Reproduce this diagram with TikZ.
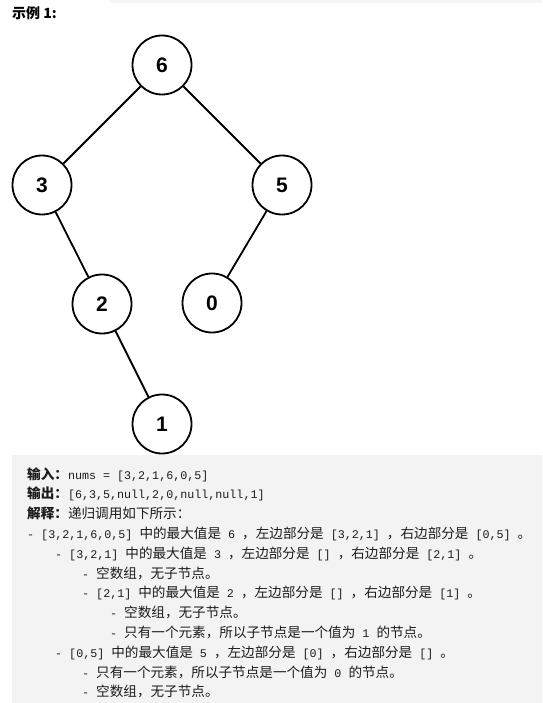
\documentclass[tikz,border=0pt]{standalone}
\usepackage{fontspec}
\setmainfont{Noto Sans CJK SC}
\setmonofont{Liberation Mono}
\newfontfamily\numfont{Liberation Sans}
\usepackage{tikz}
\definecolor{boxgray}{HTML}{F3F3F3}
\definecolor{bandgray}{HTML}{F5F5F5}
\definecolor{txt}{HTML}{1C1C1C}
\newcommand{\cd}[1]{{\ttfamily\fontsize{11.7}{13}\selectfont #1}}
\tikzset{
treenode/.style={draw, circle, line width=1.8pt, minimum size=59pt, inner sep=0pt,
  font=\numfont\bfseries\fontsize{21}{21}\selectfont},
treeedge/.style={line width=1.8pt},
txtline/.style={anchor=base west, inner sep=0pt, text=txt, font=\fontsize{13.6}{14}\selectfont}
}

\begin{document}
\begin{tikzpicture}[x=1pt,y=-1pt]
\useasboundingbox (0,0) rectangle (542,703);
\fill[bandgray] (110,0) rectangle (542,3);
\fill[boxgray] (12,455) rectangle (542,703);
\node[anchor=west, inner sep=0pt, font=\bfseries\fontsize{14}{14}\selectfont] (title) at (12,13) {示例 1:};

\node[treenode] (n6) at (162,65) {6};
\node[treenode] (n3) at (42,185) {3};
\node[treenode] (n5) at (282,185) {5};
\node[treenode] (n2) at (102,304) {2};
\node[treenode] (n0) at (212,303) {0};
\node[treenode] (n1) at (162,424) {1};
\draw[treeedge]
(n6) -- (n3)
(n6) -- (n5)
(n3) -- (n2)
(n2) -- (n1)
(n5) -- (n0);

\node[txtline] (l1) at (27,479) {\textbf{输入：}\cd{nums = [3,2,1,6,0,5]}};
\node[txtline] (l2) at (27,498.8) {\textbf{输出：}\cd{[6,3,5,null,2,0,null,null,1]}};
\node[txtline] (l3) at (27,518.6) {\textbf{解释：}递归调用如下所示：};
\node[txtline] (l4) at (27,538.4) {\cd{- [3,2,1,6,0,5] }中的最大值是\cd{ 6 }，左边部分是\cd{ [3,2,1] }，右边部分是\cd{ [0,5] }。};
\node[txtline] (l5) at (55,558.2) {\cd{- [3,2,1] }中的最大值是\cd{ 3 }，左边部分是\cd{ [] }，右边部分是\cd{ [2,1] }。};
\node[txtline] (l6) at (82,578) {\cd{- }空数组，无子节点。};
\node[txtline] (l7) at (82,597.8) {\cd{- [2,1] }中的最大值是\cd{ 2 }，左边部分是\cd{ [] }，右边部分是\cd{ [1] }。};
\node[txtline] (l8) at (110,617.6) {\cd{- }空数组，无子节点。};
\node[txtline] (l9) at (110,637.4) {\cd{- }只有一个元素，所以子节点是一个值为\cd{ 1 }的节点。};
\node[txtline] (l10) at (55,657.2) {\cd{- [0,5] }中的最大值是\cd{ 5 }，左边部分是\cd{ [0] }，右边部分是\cd{ [] }。};
\node[txtline] (l11) at (82,677) {\cd{- }只有一个元素，所以子节点是一个值为\cd{ 0 }的节点。};
\node[txtline] (l12) at (82,696.8) {\cd{- }空数组，无子节点。};
\end{tikzpicture}
\end{document}
